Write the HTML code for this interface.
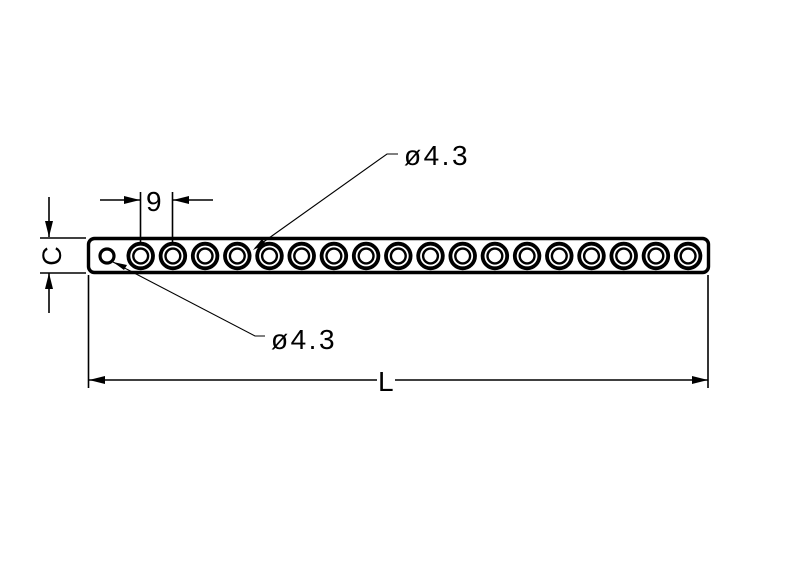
<!DOCTYPE html>
<html><head><meta charset="utf-8"><style>
html,body{margin:0;padding:0;background:#fff}
svg{display:block}
text{font-family:"Liberation Sans","DejaVu Sans",sans-serif;fill:#000}
</style></head><body>
<svg width="800" height="576" viewBox="0 0 800 576" xmlns="http://www.w3.org/2000/svg">
<rect x="0" y="0" width="800" height="576" fill="#fff"/>
<defs>
<g id="h" fill="none" stroke="#000">
<circle cx="0" cy="256" r="12.3" stroke-width="3.8"/>
<circle cx="0" cy="256" r="7.4" stroke-width="2.4"/>
</g>
</defs>
<rect x="88.5" y="238.5" width="620" height="34" rx="6" ry="6" fill="none" stroke="#000" stroke-width="3.4"/>
<circle cx="107" cy="256" r="7" fill="none" stroke="#000" stroke-width="3.2"/>
<use href="#h" x="140.7"/>
<use href="#h" x="172.9"/>
<use href="#h" x="205.1"/>
<use href="#h" x="237.3"/>
<use href="#h" x="269.5"/>
<use href="#h" x="301.7"/>
<use href="#h" x="333.9"/>
<use href="#h" x="366.1"/>
<use href="#h" x="398.3"/>
<use href="#h" x="430.5"/>
<use href="#h" x="462.7"/>
<use href="#h" x="494.9"/>
<use href="#h" x="527.1"/>
<use href="#h" x="559.3"/>
<use href="#h" x="591.5"/>
<use href="#h" x="623.7"/>
<use href="#h" x="655.9"/>
<use href="#h" x="688.1"/>
<g stroke="#000" stroke-width="1.6" fill="none">
<line x1="140.5" y1="192" x2="140.5" y2="244"/>
<line x1="172.5" y1="192" x2="172.5" y2="244"/>
<line x1="100" y1="200" x2="140" y2="200"/>
<line x1="173" y1="200" x2="213" y2="200"/>
<line x1="49" y1="197" x2="49" y2="237"/>
<line x1="49" y1="273" x2="49" y2="313"/>
<line x1="40" y1="238" x2="86" y2="238"/>
<line x1="40" y1="273" x2="86" y2="273"/>
<line x1="88.5" y1="275" x2="88.5" y2="388"/>
<line x1="708" y1="275" x2="708" y2="388"/>
<line x1="89" y1="380" x2="377" y2="380"/>
<line x1="395" y1="380" x2="708" y2="380"/>
</g>
<g stroke="#000" stroke-width="1.1" fill="none">
<polyline points="398,154 387,154 255,248"/>
<polyline points="265,336 255,336 113,262"/>
</g>
<g fill="#000">
<polygon points="140,200 124,196 124,204"/>
<polygon points="173,200 189,196 189,204"/>
<polygon points="49,237 45,221 53,221"/>
<polygon points="49,273 45,289 53,289"/>
<polygon points="89,380 105,376 105,384"/>
<polygon points="708,380 692,376 692,384"/>
<polygon points="253,250 262,239 266,244"/>
<polygon points="113,262 127,265 124,270"/>
</g>
<text x="146" y="211" font-size="28">9</text>
<text transform="translate(61,256) rotate(-90)" font-size="27" text-anchor="middle">C</text>
<text x="378" y="391" font-size="28">L</text>
<text x="404" y="165" font-size="28" letter-spacing="2.5">ø4.3</text>
<text x="271" y="349" font-size="28" letter-spacing="2.5">ø4.3</text>
</svg>
</body></html>
